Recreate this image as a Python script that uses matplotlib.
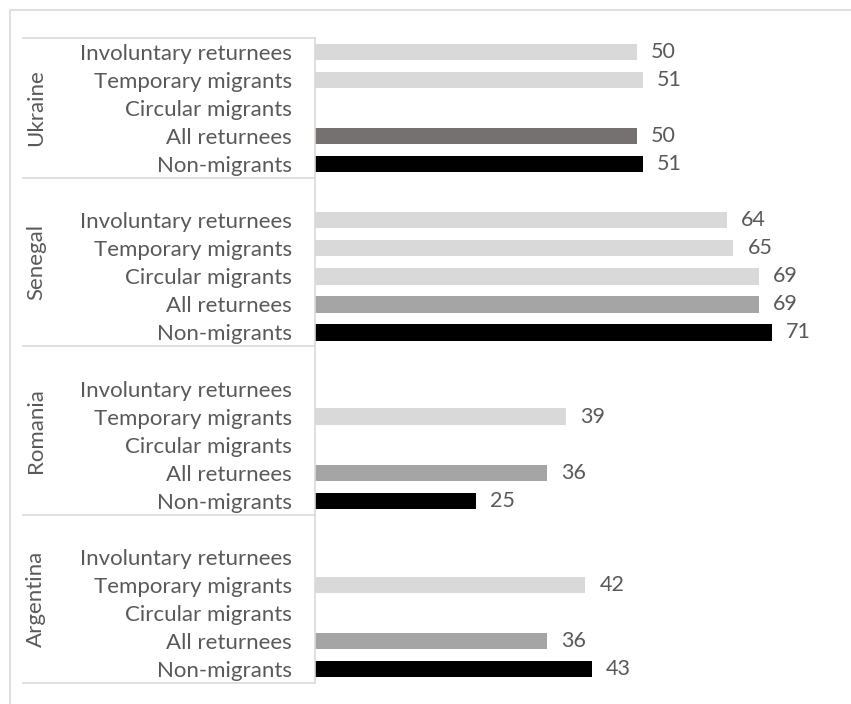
import numpy as np
import matplotlib
matplotlib.use("Agg")
import matplotlib.pyplot as plt
from matplotlib.patches import Rectangle
import matplotlib.transforms as mtransforms

plt.rcParams['font.family'] = ['Lato', 'DejaVu Sans']

# groups listed bottom to top, categories bottom to top inside each group
groups = ["Argentina", "Romania", "Senegal", "Ukraine"]
categories = ["Non-migrants", "All returnees", "Circular migrants",
              "Temporary migrants", "Involuntary returnees"]
argentina = [43, 36, np.nan, 42, np.nan]
romania = [25, 36, np.nan, 39, np.nan]
senegal = [71, 69, 69, 65, 64]
ukraine = [51, 50, np.nan, 51, 50]
values = [argentina, romania, senegal, ukraine]

cat_colors = ["#000000", "#a5a5a5", "#d9d9d9", "#d9d9d9", "#d9d9d9"]
text_col = "#595959"

W, H = 851, 704
fig = plt.figure(figsize=(W / 100, H / 100), dpi=100)

# outer chart border (cut off at right and bottom like the reference)
fig.patches.append(Rectangle((10 / W, -0.1), 1.2, 1 - 10 / H + 0.1,
                             transform=fig.transFigure, fill=False,
                             edgecolor="#d9d9d9", linewidth=1.2))

ax_left, ax_top, ax_bottom = 315, 38, 683
xmax = 80
px_per_unit = (772 - 315) / 71
ax_w = xmax * px_per_unit
ax = fig.add_axes([ax_left / W, 1 - ax_bottom / H, ax_w / W, (ax_bottom - ax_top) / H])

# build slot positions: each group = 5 categories + a blank slot on top (except last)
ypos = []
ylabels = []
group_ranges = []
pos = 0
for gi, g in enumerate(groups):
    start = pos
    for ci, c in enumerate(categories):
        v = values[gi][ci]
        col = cat_colors[ci]
        if g == "Ukraine" and c == "All returnees":
            col = "#767171"
        if not np.isnan(v):
            ax.barh(pos, v, height=0.58, color=col)
            ax.text(v + 14 / px_per_unit, pos, f"{v:.0f}", va="center", ha="left",
                    fontsize=15.5, color=text_col)
        ypos.append(pos)
        ylabels.append(c)
        pos += 1
    if gi < len(groups) - 1:
        pos += 1
    group_ranges.append((start - 0.5, pos - 0.5))

ax.set_xlim(0, xmax)
ax.set_ylim(-0.5, pos - 0.5)
ax.set_yticks(ypos)
ax.set_yticklabels(ylabels, fontsize=16, color=text_col)
ax.tick_params(axis="y", length=0, pad=16.5)
ax.set_xticks([])
for s in ["top", "right", "bottom"]:
    ax.spines[s].set_visible(False)
ax.spines["left"].set_color("#d9d9d9")
ax.spines["left"].set_linewidth(1.2)

trans = mtransforms.blended_transform_factory(ax.transAxes, ax.transData)
x_line = (23 - ax_left) / ax_w
x_country = (36 - ax_left) / ax_w
edges = sorted(set([e for r in group_ranges for e in r]))
for e in edges:
    ax.plot([x_line, 0], [e, e], transform=trans, color="#d9d9d9",
            linewidth=1.2, clip_on=False)
for g, (lo, hi) in zip(groups, group_ranges):
    ax.text(x_country, (lo + hi) / 2, g, rotation=90, transform=trans,
            ha="center", va="center", fontsize=16, color=text_col)

fig.savefig("out.png", dpi=100)
